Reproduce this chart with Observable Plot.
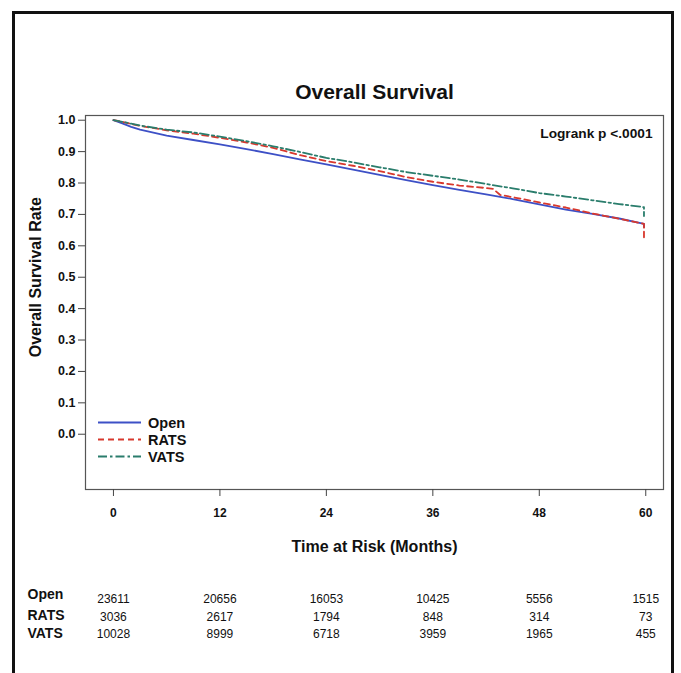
<!DOCTYPE html>
<html>
<head>
<meta charset="utf-8">
<script src="https://cdn.jsdelivr.net/npm/d3@7"></script>
<script src="https://cdn.jsdelivr.net/npm/@observablehq/plot@0.6"></script>
<style>
  html, body { margin: 0; padding: 0; background: white; }
  #wrap { position: relative; width: 681px; height: 673px; overflow: hidden; }
  #border { position: absolute; left: 12px; top: 11px; width: 656px; height: 700px;
            border: 3px solid #111; border-bottom: none; pointer-events: none; z-index: 2; }
  #chart { position: absolute; left: 0; top: 0; }
</style>
</head>
<body>
<div id="wrap"><div id="chart"></div><div id="border"></div></div>
<script>
// ---- data ----
const title = "Overall Survival";
const yLabel = "Overall Survival Rate";
const xLabel = "Time at Risk (Months)";
const pValueText = "Logrank p <.0001";

const xTicks = [0, 12, 24, 36, 48, 60];
const yTicks = [0, 0.1, 0.2, 0.3, 0.4, 0.5, 0.6, 0.7, 0.8, 0.9, 1.0];

const groups = ["Open", "RATS", "VATS"];
const colors = ["#3d50c6", "#d8382d", "#2a7d6c"];
const dashes = ["none", "6,4", "9,3,2.5,3"];

const openMonths = [0, 1, 2, 3, 6, 9, 12, 15, 18, 21, 24, 27, 30, 33, 36, 39, 42, 45, 48, 51, 54, 57, 59.8, 59.8];
const openSurv   = [1, 0.990, 0.979, 0.970, 0.951, 0.937, 0.923, 0.908, 0.892, 0.875, 0.859, 0.843, 0.826, 0.809, 0.793, 0.778, 0.764, 0.749, 0.732, 0.715, 0.702, 0.687, 0.670, 0.660];

const ratsMonths = [0, 1, 2, 3, 6, 9, 12, 15, 18, 21, 24, 27, 30, 33, 36, 39, 42, 42.8, 43.6, 45, 48, 51, 54, 57, 59.8, 59.8];
const ratsSurv   = [1, 0.995, 0.988, 0.982, 0.968, 0.957, 0.944, 0.929, 0.912, 0.889, 0.870, 0.855, 0.838, 0.819, 0.804, 0.792, 0.784, 0.781, 0.762, 0.755, 0.738, 0.722, 0.703, 0.686, 0.670, 0.627];

const vatsMonths = [0, 1, 2, 3, 6, 9, 12, 15, 18, 21, 24, 27, 30, 33, 36, 39, 42, 45, 48, 51, 54, 57, 59.8, 59.8];
const vatsSurv   = [1, 0.995, 0.989, 0.983, 0.970, 0.961, 0.948, 0.933, 0.917, 0.899, 0.880, 0.866, 0.850, 0.835, 0.823, 0.811, 0.797, 0.783, 0.768, 0.757, 0.745, 0.733, 0.723, 0.695];

// numbers at risk
const riskMonths = [0, 12, 24, 36, 48, 60];
const openRisk = [23611, 20656, 16053, 10425, 5556, 1515];
const ratsRisk = [3036, 2617, 1794, 848, 314, 73];
const vatsRisk = [10028, 8999, 6718, 3959, 1965, 455];

// ---- build tables ----
const series = [
  {name: groups[0], months: openMonths, surv: openSurv},
  {name: groups[1], months: ratsMonths, surv: ratsSurv},
  {name: groups[2], months: vatsMonths, surv: vatsSurv}
].map((s, i) => ({...s, color: colors[i], dash: dashes[i],
  points: s.months.map((m, j) => ({month: m, surv: s.surv[j]}))}));

const riskRows = [openRisk, ratsRisk, vatsRisk].map((r, i) => ({
  name: groups[i],
  cells: riskMonths.map((m, j) => ({month: m, n: r[j]}))
}));

const FONT = "'Liberation Sans', Arial, Helvetica, sans-serif";

const rowNumDy = [110, 128, 145];
const rowLabelDy = [105, 126, 144];

function legendMark(index, scales, values, dims) {
  const g = d3.create("svg:g").attr("font-family", FONT);
  const x0 = dims.marginLeft;
  const yb = dims.height - dims.marginBottom;
  series.forEach((s, i) => {
    const y = yb - 66.5 + i * 17;
    g.append("line")
      .attr("x1", x0 + 13).attr("x2", x0 + 56)
      .attr("y1", y).attr("y2", y)
      .attr("stroke", s.color).attr("stroke-width", 1.8)
      .attr("stroke-dasharray", s.dash === "none" ? null : s.dash);
    g.append("text")
      .attr("x", x0 + 63).attr("y", y + 5)
      .attr("text-anchor", "start")
      .attr("font-size", 14.5).attr("font-weight", "bold").attr("fill", "#111")
      .text(s.name);
  });
  return g.node();
}

const plot = Plot.plot({
  width: 681,
  height: 673,
  marginLeft: 85,
  marginRight: 18,
  marginTop: 115,
  marginBottom: 184,
  style: {fontFamily: FONT, background: "transparent", color: "#111"},
  x: {domain: [-3.15, 62]},
  y: {domain: [-0.176, 1.015]},
  marks: [
    Plot.frame({stroke: "#555", strokeWidth: 1.2}),
    Plot.axisY({ticks: yTicks, tickFormat: d3.format(".1f"), tickSize: 7, tickPadding: 3,
                fontSize: 12.5, fontWeight: "bold", stroke: "#444", label: null}),
    Plot.axisX({ticks: xTicks, tickFormat: d3.format("d"), tickSize: 7, tickPadding: 12,
                fontSize: 12, fontWeight: "bold", stroke: "#444", label: null}),
    ...series.map(s => Plot.line(s.points, {
      x: "month", y: "surv", stroke: s.color, strokeWidth: 1.8,
      strokeDasharray: s.dash === "none" ? undefined : s.dash
    })),
    // title
    Plot.text([title], {frameAnchor: "top", dy: -17, lineAnchor: "bottom",
      fontSize: 21, fontWeight: "bold", fill: "#111"}),
    // p value
    Plot.text([pValueText], {frameAnchor: "top-right", dx: -11, dy: 22, lineAnchor: "bottom",
      textAnchor: "end", fontSize: 13.7, fontWeight: "bold", fill: "#111"}),
    // y label
    Plot.text([yLabel], {y: () => d3.mean(yTicks), frameAnchor: "left", dx: -50, rotate: -90,
      textAnchor: "middle", lineAnchor: "middle",
      fontSize: 16, fontWeight: "bold", fill: "#111"}),
    // x label
    Plot.text([xLabel], {frameAnchor: "bottom", dy: 62, lineAnchor: "bottom",
      fontSize: 16, fontWeight: "bold", fill: "#111"}),
    // risk table
    ...riskRows.map((r, i) => Plot.text(r.cells, {x: "month", text: d => String(d.n),
      frameAnchor: "bottom", dy: rowNumDy[i], lineAnchor: "middle", fontSize: 12, fill: "#111"})),
    ...riskRows.map((r, i) => Plot.text([r.name], {frameAnchor: "bottom-left", dx: -58,
      dy: rowLabelDy[i], textAnchor: "start", lineAnchor: "middle",
      fontSize: 14, fontWeight: "bold", fill: "#111"})),
    legendMark
  ]
});

document.getElementById("chart").appendChild(plot);
</script>
</body>
</html>
